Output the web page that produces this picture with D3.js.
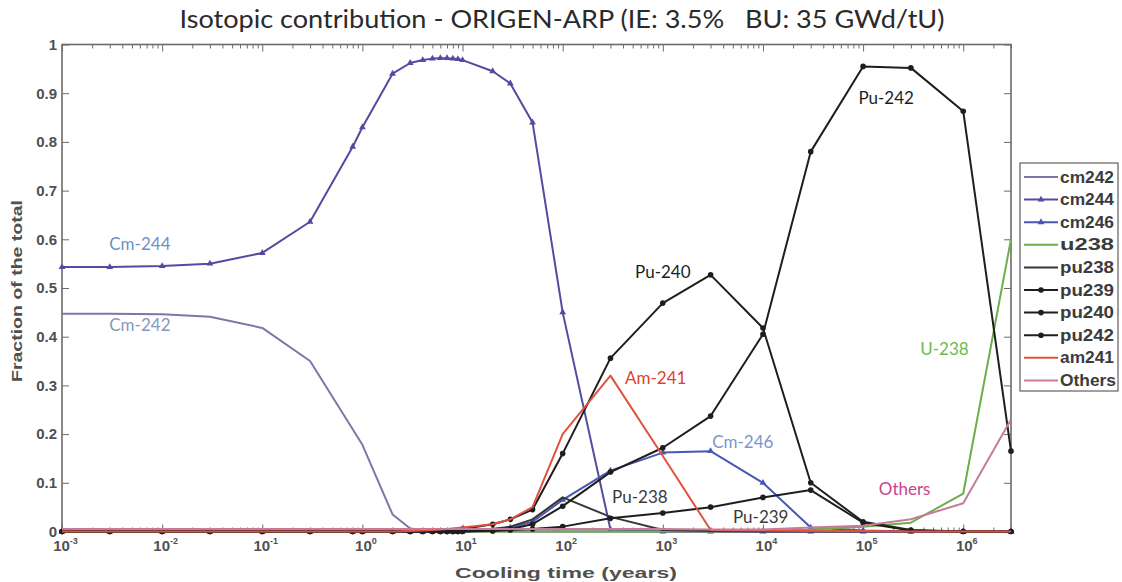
<!DOCTYPE html>
<html><head><meta charset="utf-8">
<script src="https://cdn.jsdelivr.net/npm/d3@7"></script>
<style>body{margin:0;background:#fff}</style>
</head><body><svg id="c" width="1122" height="582"></svg>
<script>
// ---- data ----
const times = [1e-3,3e-3,1e-2,3e-2,0.1,0.3,0.8,1,2,3,4,5,6,7,8,9,10,20,30,50,100,300,1e3,3e3,1e4,3e4,1e5,3e5,1e6,3e6];
const cm242 = [0.447,0.447,0.446,0.441,0.418,0.35,0.21,0.178,0.035,0.006,0.003,0.002,0.002,0.002,0.001,0.001,0.001,0.001,0,0,0,0,0,0,0,0,0,0,0,0];
const cm244 = [0.543,0.543,0.545,0.550,0.572,0.636,0.790,0.830,0.940,0.962,0.968,0.971,0.972,0.972,0.971,0.970,0.968,0.945,0.920,0.840,0.450,0.004,0,0,0,0,0,0,0,0];
const cm246 = [0,0,0,0,0,0,0,0,0,0,0,0,0,0,0,0,0.003,0.005,0.008,0.02,0.065,0.125,0.162,0.165,0.10,0.008,0.002,0,0,0];
const u238  = [0,0,0,0,0,0,0,0,0,0,0,0,0,0,0,0,0,0,0,0,0,0,0,0,0.001,0.004,0.01,0.018,0.078,0.60];
const pu238 = [0,0,0,0,0,0,0,0,0,0,0,0,0,0,0,0,0.002,0.005,0.01,0.025,0.07,0.03,0.003,0.001,0,0,0,0,0,0];
const pu239 = [0,0,0,0,0,0,0,0,0,0,0,0,0,0,0,0,0,0.001,0.003,0.005,0.01,0.027,0.038,0.05,0.07,0.085,0.018,0.002,0,0];
const pu240 = [0,0,0,0,0,0,0,0,0,0,0,0,0,0,0,0,0.005,0.015,0.025,0.045,0.16,0.356,0.469,0.527,0.418,0.10,0.02,0.003,0,0];
const pu242 = [0,0,0,0,0,0,0,0,0,0,0,0,0,0,0,0,0,0.002,0.005,0.015,0.052,0.122,0.172,0.237,0.405,0.78,0.955,0.952,0.863,0.165];
const am241 = [0,0,0,0,0,0,0,0,0,0.001,0.002,0.003,0.004,0.005,0.006,0.007,0.008,0.015,0.025,0.05,0.2,0.32,0.155,0.003,0.002,0.001,0.001,0,0,0];
const others= [0.005,0.005,0.005,0.005,0.005,0.005,0.005,0.005,0.005,0.005,0.005,0.005,0.005,0.005,0.005,0.005,0.005,0.005,0.005,0.005,0.005,0.005,0.005,0.004,0.004,0.008,0.012,0.025,0.058,0.23];
const seriesNames = ["cm242","cm244","cm246","u238","pu238","pu239","pu240","pu242","am241","Others"];
const seriesValues = [cm242,cm244,cm246,u238,pu238,pu239,pu240,pu242,am241,others];
const xTickValues = [1e-3,1e-2,1e-1,1,10,100,1e3,1e4,1e5,1e6];
const xTickExponents = ["-3","-2","-1","0","1","2","3","4","5","6"];
const yTickValues = [0,0.1,0.2,0.3,0.4,0.5,0.6,0.7,0.8,0.9,1];
const yTickLabels = ["0","0.1","0.2","0.3","0.4","0.5","0.6","0.7","0.8","0.9","1"];
const annotNames = ["Cm-244","Cm-242","Pu-240","Am-241","Cm-246","Pu-238","Pu-239","Pu-242","U-238","Others"];
const annotTimes = [0.006,0.006,1000,850,6300,590,9500,1.7e5,6.5e5,2.6e5];
const annotValues = [0.578,0.412,0.52,0.303,0.171,0.058,0.017,0.878,0.362,0.075];

// ---- styles ----
const colors = {cm242:"#8374a6",cm244:"#554aa0",cm246:"#4658b4",u238:"#6cae4a",pu238:"#3a3636",pu239:"#1e1e1e",pu240:"#1e1e1e",pu242:"#1e1e1e",am241:"#e0523e",Others:"#c77b9c"};
const markers = {cm242:null,cm244:"tri",cm246:"tri",u238:null,pu238:null,pu239:"dot",pu240:"dot",pu242:"dot",am241:null,Others:null};
const annotColors = ["#6f8fca","#8797bd","#1e1e1e","#e0402c","#7c96cc","#3a3a3a","#3a3a3a","#1e1e1e","#6cba4c","#c8448c"];

const svg = d3.select("#c");
const L=62, R=1011, T=44.5, B=531.5;
const x = d3.scaleLog().domain([1e-3,3e6]).range([L,R]);
const y = d3.scaleLinear().domain([0,1]).range([B,T]);

svg.append("rect").attr("width",1122).attr("height",582).attr("fill","#fff");

// minor ticks
const minor = [];
for (let e=-3;e<=6;e++) for (let k=2;k<=9;k++){ const v=k*Math.pow(10,e); if(v<=3e6) minor.push(v); }

const axisColor="#6e6a6a";
function styleAxis(g){ g.select(".domain").remove(); g.selectAll("line").attr("stroke",axisColor).attr("stroke-width",1); }

// bottom major
const gb = svg.append("g").attr("transform",`translate(0,${B})`)
  .call(d3.axisBottom(x).tickValues(xTickValues).tickSizeInner(-7).tickSizeOuter(0).tickPadding(9).tickFormat(()=>""));
styleAxis(gb);
gb.selectAll(".tick text").each(function(d,i){
  const t=d3.select(this).attr("font-family","Liberation Sans, Arial").attr("font-size",15).attr("font-weight","bold").attr("fill","#505050");
  t.text(null);
  t.append("tspan").text("10");
  t.append("tspan").attr("dy",-7).attr("font-size",9).text(xTickExponents[i]);
  t.attr("dx",3);
});
svg.append("g").attr("transform",`translate(0,${B})`)
  .call(d3.axisBottom(x).tickValues(minor).tickSizeInner(-4).tickSizeOuter(0).tickFormat(()=>"")).call(styleAxis);
// top
svg.append("g").attr("transform",`translate(0,${T})`)
  .call(d3.axisTop(x).tickValues(xTickValues).tickSizeInner(-7).tickSizeOuter(0).tickFormat(()=>"")).call(styleAxis);
svg.append("g").attr("transform",`translate(0,${T})`)
  .call(d3.axisTop(x).tickValues(minor).tickSizeInner(-4).tickSizeOuter(0).tickFormat(()=>"")).call(styleAxis);
// left
const gl = svg.append("g").attr("transform",`translate(${L},0)`)
  .call(d3.axisLeft(y).tickValues(yTickValues).tickSizeInner(-7).tickSizeOuter(0).tickPadding(5).tickFormat((d,i)=>yTickLabels[i]));
styleAxis(gl);
gl.selectAll(".tick text").attr("font-family","Liberation Sans, Arial").attr("font-size",15).attr("font-weight","bold").attr("fill","#505050");
// right
svg.append("g").attr("transform",`translate(${R},0)`)
  .call(d3.axisRight(y).tickValues(yTickValues).tickSizeInner(-7).tickSizeOuter(0).tickFormat(()=>"")).call(styleAxis);

// frame
svg.append("rect").attr("x",L).attr("y",T).attr("width",R-L).attr("height",B-T)
  .attr("fill","none").attr("stroke",axisColor).attr("stroke-width",1.6);

// series
const line = d3.line().x((d,i)=>x(times[i])).y(d=>y(d));
const tri = d3.symbol().type(d3.symbolTriangle).size(20);
seriesNames.forEach((name,si)=>{
  const vals = seriesValues[si];
  svg.append("path").datum(vals).attr("d",line).attr("fill","none")
    .attr("stroke",colors[name]).attr("stroke-width",2).attr("stroke-linejoin","round");
  if (markers[name]==="dot"){
    svg.append("g").selectAll("circle").data(vals).join("circle")
      .attr("cx",(d,i)=>x(times[i])).attr("cy",d=>y(d)).attr("r",2.8).attr("fill",colors[name]);
  } else if (markers[name]==="tri"){
    svg.append("g").selectAll("path").data(vals).join("path")
      .attr("d",tri).attr("transform",(d,i)=>`translate(${x(times[i])},${y(d)})`).attr("fill",colors[name]);
  }
});

// annotations
annotNames.forEach((n,i)=>{
  svg.append("text").attr("x",x(annotTimes[i])).attr("y",y(annotValues[i]))
    .attr("text-anchor","middle").attr("font-family","Lato, Open Sans, sans-serif").attr("font-size",17)
    .attr("fill",annotColors[i]).text(n);
});

// title & axis labels
svg.append("text").attr("x",562).attr("y",28).attr("text-anchor","middle")
  .attr("font-family","Lato, Open Sans, sans-serif").attr("font-size",25).attr("fill","#2a2a2a")
  .style("white-space","pre")
  .attr("textLength",765).attr("lengthAdjust","spacingAndGlyphs")
  .text("Isotopic contribution - ORIGEN-ARP (IE: 3.5%   BU: 35 GWd/tU)");
svg.append("text").attr("x",566).attr("y",578).attr("text-anchor","middle")
  .attr("font-family","Liberation Sans, Arial").attr("font-size",15).attr("font-weight","bold").attr("fill","#505050")
  .attr("textLength",222).attr("lengthAdjust","spacingAndGlyphs")
  .text("Cooling time (years)");
svg.append("text").attr("transform","translate(22,291) rotate(-90)").attr("text-anchor","middle")
  .attr("font-family","Liberation Sans, Arial").attr("font-size",15).attr("font-weight","bold").attr("fill","#505050")
  .attr("textLength",182).attr("lengthAdjust","spacingAndGlyphs")
  .text("Fraction of the total");

// legend
const lgX=1020, lgY=163, lgW=98, lgH=228, step=22.6;
svg.append("rect").attr("x",lgX).attr("y",lgY).attr("width",lgW).attr("height",lgH)
  .attr("fill","#fff").attr("stroke",axisColor).attr("stroke-width",1.3);
seriesNames.forEach((name,i)=>{
  const cy = lgY+14+i*step;
  svg.append("line").attr("x1",lgX+4).attr("x2",lgX+38).attr("y1",cy).attr("y2",cy)
    .attr("stroke",colors[name]).attr("stroke-width",2);
  if (markers[name]==="dot") svg.append("circle").attr("cx",lgX+21).attr("cy",cy).attr("r",2.8).attr("fill",colors[name]);
  if (markers[name]==="tri") svg.append("path").attr("d",tri).attr("transform",`translate(${lgX+21},${cy})`).attr("fill",colors[name]);
  svg.append("text").attr("x",lgX+40).attr("y",cy+5.5).attr("font-family","Liberation Sans, Arial")
    .attr("font-size",16).attr("font-weight","bold").attr("fill","#3c3c3c")
    .attr("textLength",name==="Others"?56:54).attr("lengthAdjust","spacingAndGlyphs").text(name);
});
</script></body></html>
